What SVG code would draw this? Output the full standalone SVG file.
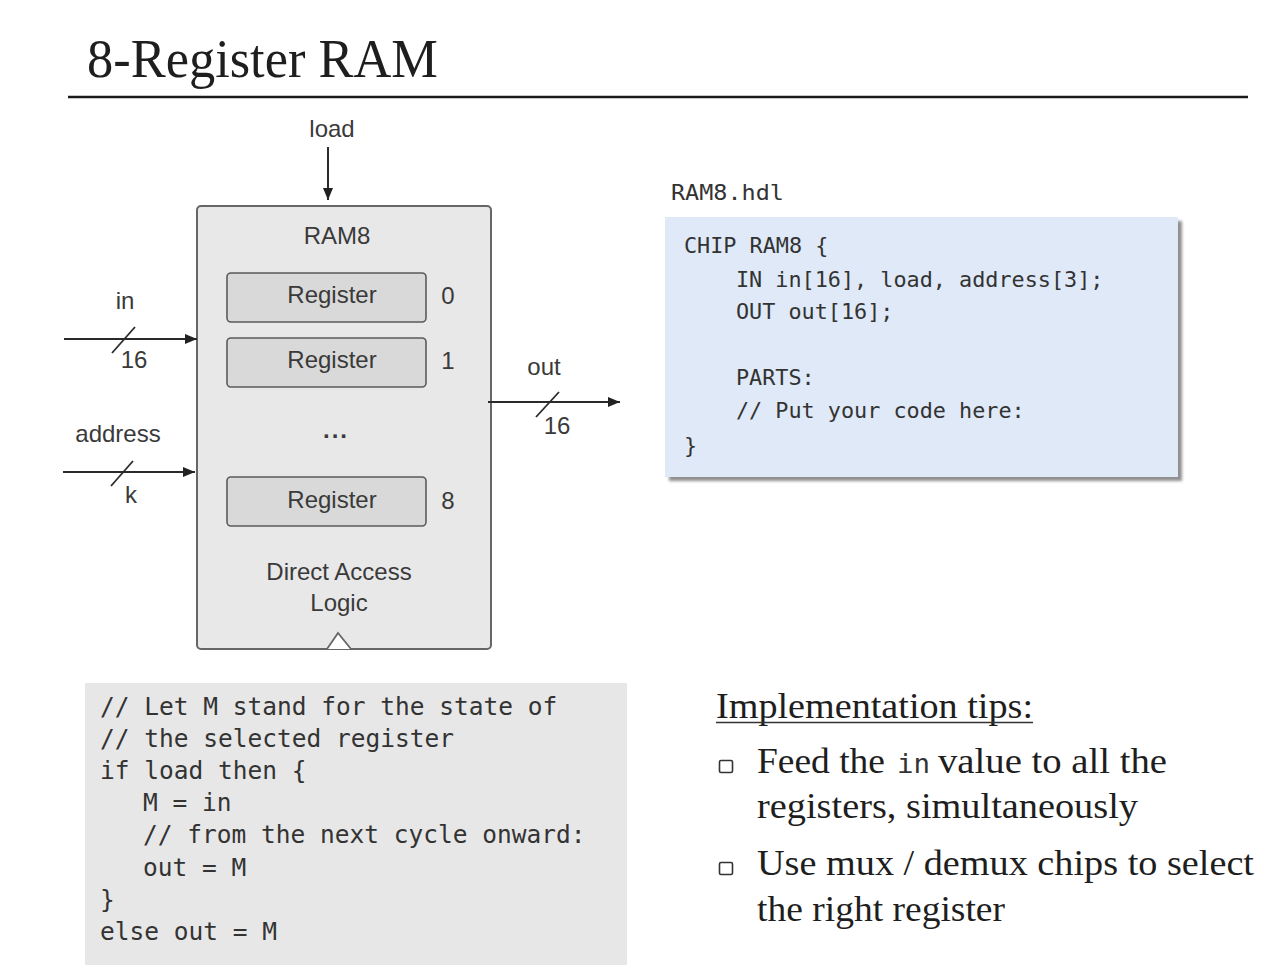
<svg xmlns="http://www.w3.org/2000/svg" width="1268" height="976" viewBox="0 0 1268 976">
  <defs>
    <marker id="arrow" viewBox="0 0 12 10" refX="12" refY="5" markerWidth="13" markerHeight="10" markerUnits="userSpaceOnUse" orient="auto">
      <path d="M0,0 L12,5 L0,10 Z" fill="#222"/>
    </marker>
    <filter id="soft" x="-5%" y="-5%" width="110%" height="110%">
      <feGaussianBlur stdDeviation="1.5"/>
    </filter>
  </defs>
  <style>
    .sans { font-family: "Liberation Sans", Arial, sans-serif; fill: #3a3a3a; }
    .lbl { font-size: 24px; text-anchor: middle; }
    .serif { font-family: "Liberation Serif", "Times New Roman", serif; fill: #1e1e1e; }
    .mono { font-family: "DejaVu Sans Mono", "Liberation Mono", monospace; fill: #333; }
    .wire { stroke: #2a2a2a; stroke-width: 2; fill: none; }
    .bus { stroke: #2a2a2a; stroke-width: 1.8; }
    .reg { fill: #d9d9d9; stroke: #5a5a5a; stroke-width: 1.6; }
    .bullet { fill: none; stroke: #333; stroke-width: 1.6; }
  </style>

  <rect width="1268" height="976" fill="#ffffff"/>

  <!-- slide heading -->
  <g id="title">
    <text class="serif" x="87" y="77" font-size="54" textLength="351" lengthAdjust="spacingAndGlyphs">8-Register RAM</text>
    <line x1="68" y1="97" x2="1248" y2="97" stroke="#1a1a1a" stroke-width="2.5"/>
  </g>

  <!-- RAM8 chip -->
  <g id="ram8">
    <rect x="197" y="206" width="294" height="443" rx="4" fill="#e8e8e8" stroke="#666" stroke-width="2"/>
    <text class="sans lbl" x="337" y="244">RAM8</text>
    <text class="sans lbl" x="336" y="438" font-size="26" font-weight="bold" letter-spacing="2">...</text>
    <text class="sans lbl" x="339" y="580">Direct Access</text>
    <text class="sans lbl" x="339" y="611">Logic</text>
    <!-- clock input -->
    <path d="M327,649 L338,633 L351,649" fill="#ffffff" stroke="#666" stroke-width="1.8"/>
  </g>

  <g id="reg0">
    <rect class="reg" x="227" y="273" width="199" height="49" rx="4"/>
    <text class="sans lbl" x="332" y="303">Register</text>
    <text class="sans lbl" x="448" y="304">0</text>
  </g>
  <g id="reg1">
    <rect class="reg" x="227" y="338" width="199" height="49" rx="4"/>
    <text class="sans lbl" x="332" y="368">Register</text>
    <text class="sans lbl" x="448" y="369">1</text>
  </g>
  <g id="reg8">
    <rect class="reg" x="227" y="477" width="199" height="49" rx="4"/>
    <text class="sans lbl" x="332" y="508">Register</text>
    <text class="sans lbl" x="448" y="509">8</text>
  </g>

  <!-- pin labels -->
  <g id="pins">
    <text class="sans lbl" x="332" y="137">load</text>
    <text class="sans lbl" x="125" y="309">in</text>
    <text class="sans lbl" x="134" y="368" font-size="21">16</text>
    <text class="sans lbl" x="118" y="442">address</text>
    <text class="sans lbl" x="131" y="503" font-size="23">k</text>
    <text class="sans lbl" x="544" y="375">out</text>
    <text class="sans lbl" x="557" y="434" font-size="21">16</text>
  </g>

  <!-- wires -->
  <g id="connectors">
    <line class="wire" x1="328" y1="147" x2="328" y2="200" marker-end="url(#arrow)"/>
    <line class="wire" x1="64" y1="339" x2="197" y2="339" marker-end="url(#arrow)"/>
    <line class="bus" x1="112" y1="353" x2="135" y2="327"/>
    <line class="wire" x1="63" y1="472" x2="195" y2="472" marker-end="url(#arrow)"/>
    <line class="bus" x1="111" y1="486" x2="133" y2="461"/>
    <line class="wire" x1="488" y1="402" x2="620" y2="402" marker-end="url(#arrow)"/>
    <line class="bus" x1="536" y1="417" x2="559" y2="392"/>
  </g>

  <!-- HDL stub -->
  <g id="hdl">
    <text class="mono" x="671" y="200" font-size="22" textLength="113" lengthAdjust="spacingAndGlyphs">RAM8.hdl</text>
    <rect x="669" y="221" width="513" height="260" fill="#8f8f8f" filter="url(#soft)"/>
    <rect x="665" y="217" width="513" height="260" fill="#dfe9f7"/>
    <g class="mono" font-size="21.8">
      <text x="684" y="253">CHIP RAM8 {</text>
      <text x="736" y="287">IN in[16], load, address[3];</text>
      <text x="736" y="319">OUT out[16];</text>
      <text x="736" y="385">PARTS:</text>
      <text x="736" y="418">// Put your code here:</text>
      <text x="684" y="453">}</text>
    </g>
  </g>

  <!-- behaviour pseudo-code -->
  <g id="pseudo">
    <rect x="85" y="683" width="542" height="282" fill="#e7e7e7"/>
    <g class="mono" font-size="24.5">
      <text x="100" y="715">// Let M stand for the state of</text>
      <text x="100" y="747">// the selected register</text>
      <text x="100" y="779">if load then {</text>
      <text x="143" y="811">M = in</text>
      <text x="143" y="843">// from the next cycle onward:</text>
      <text x="143" y="876">out = M</text>
      <text x="100" y="908">}</text>
      <text x="100" y="940">else out = M</text>
    </g>
  </g>

  <!-- tips -->
  <g id="tips">
    <text class="serif" x="716" y="718" font-size="36" textLength="317" lengthAdjust="spacingAndGlyphs">Implementation tips:</text>
    <line x1="716" y1="722.5" x2="1033" y2="722.5" stroke="#333" stroke-width="1.5"/>

    <rect class="bullet" x="719.5" y="760.5" width="13" height="12" rx="1.5"/>
    <text class="serif" x="757" y="773" font-size="36" textLength="128" lengthAdjust="spacingAndGlyphs">Feed the</text>
    <text class="mono" x="897" y="773" font-size="27" fill="#222" textLength="33" lengthAdjust="spacingAndGlyphs">in</text>
    <text class="serif" x="938" y="773" font-size="36" textLength="229" lengthAdjust="spacingAndGlyphs">value to all the</text>
    <text class="serif" x="757" y="818" font-size="36" textLength="381" lengthAdjust="spacingAndGlyphs">registers, simultaneously</text>

    <rect class="bullet" x="719.5" y="862.5" width="13" height="12" rx="1.5"/>
    <text class="serif" x="757" y="875" font-size="36" textLength="497" lengthAdjust="spacingAndGlyphs">Use mux / demux chips to select</text>
    <text class="serif" x="757" y="921" font-size="36" textLength="248" lengthAdjust="spacingAndGlyphs">the right register</text>
  </g>
</svg>
